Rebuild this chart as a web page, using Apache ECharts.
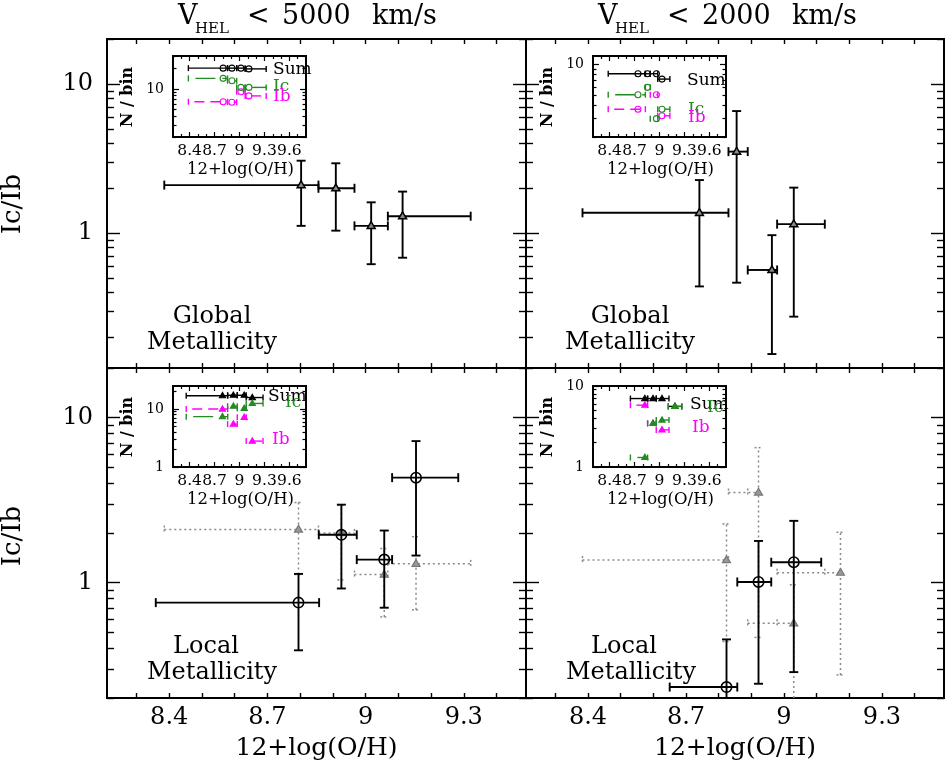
<!DOCTYPE html>
<html><head><meta charset="utf-8">
<script src="https://cdn.jsdelivr.net/npm/echarts@6/dist/echarts.min.js"></script>
<style>html,body{margin:0;padding:0;background:#fff}#c{width:945px;height:762px}</style>
</head><body><div id="c"></div>
<script>
// ---------------- DATA ----------------
// Top-left: Global metallicity, V_HEL < 5000 km/s  (Ic/Ib ratio per bin)
const tlX   = [8.803, 8.909, 9.017, 9.113];
const tlY   = [2.10, 2.00, 1.12, 1.30];
const tlXlo = [8.385, 8.856, 8.966, 9.068];
const tlXhi = [8.856, 8.966, 9.068, 9.321];
const tlYlo = [1.12, 1.04, 0.62, 0.685];
const tlYhi = [3.06, 2.94, 1.61, 1.90];
const tlSum = [20, 20, 20, 19.5];       // inset N / bin
const tlIc  = [14.2, 13.1, 10.5, 10.5];
const tlIb  = [6.5, 6.4, 9.1, 7.9];

// Top-right: Global metallicity, V_HEL < 2000 km/s
const trX   = [8.741, 8.855, 8.963, 9.030];
const trY   = [1.37, 3.52, 0.567, 1.15];
const trXlo = [8.383, 8.830, 8.889, 8.979];
const trXhi = [8.830, 8.889, 8.979, 9.125];
const trYlo = [0.44, 0.466, 0.155, 0.276];
const trYhi = [2.27, 6.58, 0.97, 2.02];
const trSum = [8.1, 8.1, 8.1, 7.2];
const trIc  = [5.1, 6.0, 3.0, 3.7];
const trIb  = [3.7, 1.7, 5.1, 3.2];

// Bottom-left: Local metallicity, V_HEL < 5000 km/s
const blX   = [8.795, 8.926, 9.057, 9.154];
const blY   = [0.757, 1.95, 1.38, 4.33];
const blXlo = [8.359, 8.857, 8.973, 9.081];
const blXhi = [8.858, 8.973, 9.081, 9.283];
const blYlo = [0.389, 0.922, 0.705, 1.46];
const blYhi = [1.13, 2.97, 2.07, 7.21];
const blSum = [17, 17.3, 17.3, 15.8];
const blIc  = [7.4, 11.2, 10.3, 12.5];
const blIb  = [10.0, 5.5, 7.2, 2.8];

// Bottom-right: Local metallicity, V_HEL < 2000 km/s
const brX   = [8.824, 8.922, 9.030];
const brY   = [0.233, 1.01, 1.33];
const brXlo = [8.650, 8.857, 8.961];
const brXhi = [8.857, 8.961, 9.114];
const brYlo = [0.10, 0.244, 0.287];
const brYhi = [0.453, 1.79, 2.37];
const brGX  = [8.824, 8.922, 9.030, 9.173];   // global points re-drawn (dotted)
const brInX   = [8.824, 8.922, 9.030, 9.186]; // inset bins
const brInXlo = [8.650, 8.857, 8.961, 9.106];
const brInXhi = [8.857, 8.961, 9.114, 9.268];
const brSum = [7.0, 7.0, 7.0, 5.6];
const brIc  = [1.31, 3.46, 3.8, 5.6];
const brIb  = [5.8, 3.45, 2.87, null];

// Tick values / labels
const mainXTicks  = [8.3, 8.4, 8.5, 8.6, 8.7, 8.8, 8.9, 9.0, 9.1, 9.2, 9.3, 9.4];
const mainXLabels = [8.4, 8.7, 9.0, 9.3];
const mainYMajor  = [1, 10];
const mainYMinor  = [0.2, 0.3, 0.4, 0.5, 0.6, 0.7, 0.8, 0.9, 2, 3, 4, 5, 6, 7, 8, 9, 20];
const mainYLabels = [1, 10];
const insXMajor   = [8.4, 8.7, 9.0, 9.3, 9.6];
const insXMinor   = [8.3, 8.5, 8.6, 8.8, 8.9, 9.1, 9.2, 9.4, 9.5, 9.7];
const insYMajor   = [1, 10];
const insYMinor   = [2, 3, 4, 5, 6, 7, 8, 9, 20, 30];
const insYLabels  = [1, 10];

// ---------------- CHART ----------------
const FONT = 'DejaVu Serif';
const GREEN = '#228B22', MAG = '#FF00FF';
const fmt = v => String(Math.round(v * 10) / 10);
const grids = [], xAxes = [], yAxes = [], series = [];

function addPanel(rect, xr, yr, c) {
  const gi = grids.length;
  grids.push({left: rect[0], top: rect[1], width: rect[2], height: rect[3], show: false});
  const xIdx = xAxes.length, yIdx = yAxes.length;
  c.xGroups.forEach((g, k) => {
    ['bottom', 'top'].forEach(pos => {
      const lab = (pos === 'bottom' && k === 0 && c.xLabels) ? c.xLabels : null;
      xAxes.push({
        type: 'value', gridIndex: gi, position: pos, min: xr[0], max: xr[1],
        axisLine: {show: true, onZero: false, lineStyle: {color: '#000', width: c.frameW}},
        axisTick: {show: true, inside: true, length: g.len, customValues: g.values,
                   lineStyle: {color: '#000', width: c.tickW}},
        axisLabel: lab ? {show: true, customValues: lab, formatter: fmt, color: '#000',
                          fontFamily: FONT, fontSize: c.xFont, margin: c.xMargin, hideOverlap: false}
                       : {show: false},
        splitLine: {show: false}
      });
    });
  });
  c.yGroups.forEach((g, k) => {
    ['left', 'right'].forEach(pos => {
      const lab = (pos === 'left' && k === 0 && c.yLabels) ? c.yLabels : null;
      yAxes.push({
        type: 'log', logBase: 10, gridIndex: gi, position: pos, min: yr[0], max: yr[1],
        axisLine: {show: true, onZero: false, lineStyle: {color: '#000', width: c.frameW}},
        axisTick: {show: true, inside: true, length: g.len, customValues: g.values,
                   lineStyle: {color: '#000', width: c.tickW}},
        axisLabel: lab ? {show: true, customValues: lab, formatter: fmt, color: '#000',
                          fontFamily: FONT, fontSize: c.yFont, margin: c.yMargin, hideOverlap: false}
                       : {show: false},
        splitLine: {show: false}, minorTick: {show: false}
      });
    });
  });
  return {xIdx, yIdx};
}

const XR = [8.21, 9.49];
function mainCfg(xl, yl) {
  return {frameW: 2, tickW: 1.4,
    xGroups: [{values: mainXTicks, len: 5}],
    yGroups: [{values: mainYMajor, len: 13}, {values: mainYMinor, len: 7}],
    xLabels: xl ? mainXLabels : null, yLabels: yl ? mainYLabels : null,
    xFont: 24, xMargin: 8, yFont: 24, yMargin: 14};
}
const insCfg = {frameW: 2, tickW: 1.2,
  xGroups: [{values: insXMajor, len: 5}, {values: insXMinor, len: 3}],
  yGroups: [{values: insYMajor, len: 6}, {values: insYMinor, len: 3.5}],
  xLabels: insXMajor, yLabels: insYLabels, xFont: 15.5, xMargin: 6, yFont: 14, yMargin: 9};

const pTL = addPanel([107, 39, 419, 329], XR, [0.125, 20], mainCfg(false, true));
const pTR = addPanel([526, 39, 418, 329], XR, [0.125, 20], mainCfg(false, false));
const pBL = addPanel([107, 368, 419, 330], XR, [0.2, 20], mainCfg(true, true));
const pBR = addPanel([526, 368, 418, 330], XR, [0.2, 20], mainCfg(true, false));
const iTL = addPanel([173, 56, 133, 81], [8.2, 9.8], [2, 30], insCfg);
const iTR = addPanel([593, 56, 133, 81], [8.2, 9.8], [2, 12], insCfg);
const iBL = addPanel([173, 386, 133, 81], [8.2, 9.8], [1, 25], insCfg);
const iBR = addPanel([593, 386, 133, 81], [8.2, 9.8], [1, 10], insCfg);

function rows(x, y, xlo, xhi, ylo, yhi) {
  const out = [];
  for (let i = 0; i < x.length; i++) {
    if (y[i] == null) continue;
    out.push([x[i], y[i], xlo[i], xhi[i], ylo ? ylo[i] : y[i], yhi ? yhi[i] : y[i]]);
  }
  return out;
}

function errRender(st) {
  return function (params, api) {
    const cs = params.coordSys;
    const y0 = cs.y, y1 = cs.y + cs.height;
    const cx = api.value(0), cy = api.value(1);
    const p = api.coord([cx, cy]);
    if (p[1] < y0 - 0.5 || p[1] > y1 + 0.5) return {type: 'group', children: []};
    const ln = (a, b, c, d, dashed) => ({type: 'line', silent: true,
      shape: {x1: a, y1: b, x2: c, y2: d},
      style: {stroke: st.color, lineWidth: st.lw, lineDash: dashed ? (st.dash || null) : (st.capDash || null),
              lineDashOffset: dashed ? (st.dashOff || 0) : 0}});
    const kids = [];
    const a = api.coord([api.value(2), cy])[0], b = api.coord([api.value(3), cy])[0];
    kids.push(ln(Math.min(a, p[0]), p[1], Math.max(b, p[0]), p[1], true));
    kids.push(ln(a, p[1] - st.cap, a, p[1] + st.cap));
    kids.push(ln(b, p[1] - st.cap, b, p[1] + st.cap));
    if (st.yerr) {
      const lo = api.coord([cx, api.value(4)])[1], hi = api.coord([cx, api.value(5)])[1];
      kids.push(ln(p[0], Math.min(y1, lo), p[0], Math.max(y0, hi), true));
      if (lo <= y1 + 0.5) kids.push(ln(p[0] - st.cap, lo, p[0] + st.cap, lo));
      if (hi >= y0 - 0.5) kids.push(ln(p[0] - st.cap, hi, p[0] + st.cap, hi));
    }
    if (st.marker === 'circle') {
      kids.push({type: 'circle', silent: true, shape: {cx: p[0], cy: p[1], r: st.r},
        style: {fill: st.fill || null, stroke: st.mstroke || st.color, lineWidth: st.mlw || st.lw}});
    } else {
      const s = st.r;
      kids.push({type: 'polygon', silent: true,
        shape: {points: [[p[0], p[1] - s], [p[0] - s * 0.95, p[1] + s * 0.62], [p[0] + s * 0.95, p[1] + s * 0.62]]},
        style: {fill: st.fill || null, stroke: st.mstroke || st.color, lineWidth: st.mlw || st.lw}});
    }
    return {type: 'group', children: kids};
  };
}

function addSeries(panel, data, st, z) {
  series.push({type: 'custom', xAxisIndex: panel.xIdx, yAxisIndex: panel.yIdx,
    coordinateSystem: 'cartesian2d', renderItem: errRender(st), data: data,
    encode: {x: 0, y: 1}, z: z, silent: true, animation: false});
}

const stTri   = {color: '#000', lw: 1.9, cap: 4.5, yerr: true, marker: 'tri', r: 4.2, fill: '#888', mstroke: '#000', mlw: 1.5};
const stCirc  = {color: '#000', lw: 1.9, cap: 4.5, yerr: true, marker: 'circle', r: 5.2, fill: null, mlw: 1.6};
const stDot   = {color: '#8a8a8a', lw: 1.5, cap: 4, yerr: true, dash: [2, 3], capDash: [2, 2], marker: 'tri', r: 4.2, fill: '#999', mstroke: '#777', mlw: 1.2};
function insSt(color, marker, dash, off) {
  return {color: color, lw: 1.4, cap: 3, yerr: false, dash: dash, dashOff: off, marker: marker,
          r: marker === 'circle' ? 3 : 3.3, fill: marker === 'circle' ? null : color, mlw: 1.1};
}

// main panels
addSeries(pTL, rows(tlX, tlY, tlXlo, tlXhi, tlYlo, tlYhi), stTri, 3);
addSeries(pTR, rows(trX, trY, trXlo, trXhi, trYlo, trYhi), stTri, 3);
addSeries(pBL, rows(blX, tlY, tlXlo, tlXhi, tlYlo, tlYhi), stDot, 2);
addSeries(pBL, rows(blX, blY, blXlo, blXhi, blYlo, blYhi), stCirc, 3);
addSeries(pBR, rows(brGX, trY, trXlo, trXhi, trYlo, trYhi), stDot, 2);
addSeries(pBR, rows(brX, brY, brXlo, brXhi, brYlo, brYhi), stCirc, 3);

// insets
const IC_DASH = [20, 7], IB_DASH = [10, 6];
function addInset(panel, x, xlo, xhi, sum, ic, ib, marker) {
  addSeries(panel, rows(x, sum, xlo, xhi), insSt('#000', marker, null, 0), 4);
  addSeries(panel, rows(x, ib, xlo, xhi), insSt(MAG, marker, IB_DASH, 10), 5);
  addSeries(panel, rows(x, ic, xlo, xhi), insSt(GREEN, marker, IC_DASH, 20), 6);
}
addInset(iTL, tlX, tlXlo, tlXhi, tlSum, tlIc, tlIb, 'circle');
addInset(iTR, trX, trXlo, trXhi, trSum, trIc, trIb, 'circle');
addInset(iBL, blX, blXlo, blXhi, blSum, blIc, blIb, 'tri');
addInset(iBR, brInX, brInXlo, brInXhi, brSum, brIc, brIb, 'tri');

// texts
function T(text, x, y, size, o) {
  o = o || {};
  return {type: 'text', x: x, y: y, rotation: o.rot || 0, z: 100, silent: true,
    style: {text: text, fill: o.color || '#000',
      font: (o.weight || 'normal') + ' ' + size + 'px "' + FONT + '"',
      align: o.align || 'center', verticalAlign: 'middle',
      textAlign: o.align || 'center', textVerticalAlign: 'middle'}};
}
const graphics = [];
[[0, '5000'], [420, '2000']].forEach(([dx, v]) => {
  graphics.push(T('V', 178 + dx, 17, 27, {align: 'left'}));
  graphics.push(T('HEL', 195 + dx, 29, 15, {align: 'left'}));
  graphics.push(T('<', 247 + dx, 17, 27, {align: 'left'}));
  graphics.push(T(v, 282 + dx, 17, 27, {align: 'left'}));
  graphics.push(T('km/s', 372 + dx, 17, 27, {align: 'left'}));
});
graphics.push(T('Ic/Ib', 13, 204, 26, {rot: Math.PI / 2}));
graphics.push(T('Ic/Ib', 13, 536, 26, {rot: Math.PI / 2}));
graphics.push(T('12+log(O/H)', 316.5, 748, 25));
graphics.push(T('12+log(O/H)', 735, 748, 25));
graphics.push(T('Global', 212, 317, 24), T('Metallicity', 212, 343, 24));
graphics.push(T('Global', 630, 317, 24), T('Metallicity', 630, 343, 24));
graphics.push(T('Local', 206, 647, 24), T('Metallicity', 212, 673, 24));
graphics.push(T('Local', 624, 647, 24), T('Metallicity', 631, 673, 24));
[[0, 0], [420, 0], [0, 330], [420, 330]].forEach(([dx, dy]) => {
  graphics.push(T('N / bin', 128 + dx, 97 + dy, 16, {rot: Math.PI / 2, weight: 'bold'}));
  graphics.push(T('12+log(O/H)', 240.5 + dx, 170 + dy, 16.5));
});
graphics.push(T('Sum', 273, 70, 17, {align: 'left'}), T('Ic', 273, 87, 17, {align: 'left', color: GREEN}), T('Ib', 273, 97, 17, {align: 'left', color: MAG}));
graphics.push(T('Sum', 687, 81, 17, {align: 'left'}), T('Ic', 688, 110, 17, {align: 'left', color: GREEN}), T('Ib', 688, 118, 17, {align: 'left', color: MAG}));
graphics.push(T('Sum', 268, 397, 17, {align: 'left'}), T('Ic', 285, 403, 17, {align: 'left', color: GREEN}), T('Ib', 272, 440, 17, {align: 'left', color: MAG}));
graphics.push(T('Sum', 690, 405, 17, {align: 'left'}), T('Ic', 707, 408, 17, {align: 'left', color: GREEN}), T('Ib', 692, 428, 17, {align: 'left', color: MAG}));

const chart = echarts.init(document.getElementById('c'));
chart.setOption({
  animation: false, backgroundColor: '#fff',
  grid: grids, xAxis: xAxes, yAxis: yAxes, series: series, graphic: graphics
});
</script></body></html>
